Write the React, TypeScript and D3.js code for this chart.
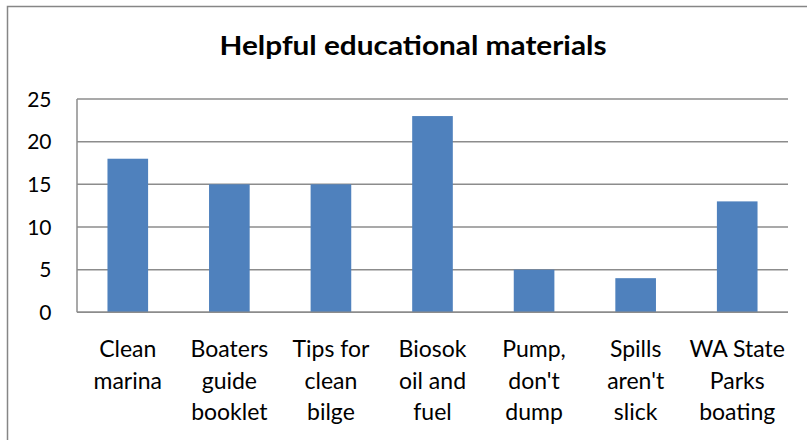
import React from "react";
import * as d3 from "d3";

const categories = [
  "Clean\nmarina",
  "Boaters\nguide\nbooklet",
  "Tips for\nclean\nbilge",
  "Biosok\noil and\nfuel",
  "Pump,\ndon't\ndump",
  "Spills\naren't\nslick",
  "WA State\nParks\nboating",
];
const values = [18, 15, 15, 23, 5, 4, 13];
const yTicks = [0, 5, 10, 15, 20, 25];
const title = "Helpful educational materials";

const W = 807;
const H = 440;
const plot = { left: 77, right: 788, top: 99, bottom: 312.3 };

export default function App() {
  const x = d3
    .scaleBand<string>()
    .domain(categories)
    .range([plot.left, plot.right])
    .paddingInner(0.6)
    .paddingOuter(0.3);
  const y = d3.scaleLinear().domain([0, 25]).range([plot.bottom, plot.top]);
  const font = "Lato, 'Open Sans', sans-serif";

  return (
    <svg
      width={W}
      height={H}
      style={{ position: "absolute", left: 0, top: 0, background: "#fff" }}
    >
      <rect x={0} y={0} width={W} height={H} fill="#fff" />
      <rect
        x={7.5}
        y={6.5}
        width={W + 20}
        height={H + 20}
        fill="none"
        stroke="#868686"
        strokeWidth={1.5}
      />
      <text
        x={413}
        y={55}
        textAnchor="middle"
        fontFamily={font}
        fontWeight={700}
        fontSize={27}
        textLength={387}
        lengthAdjust="spacingAndGlyphs"
        fill="#000"
      >
        {title}
      </text>
      {yTicks.map((t) => (
        <g key={t}>
          <line
            x1={plot.left}
            x2={plot.right}
            y1={y(t)}
            y2={y(t)}
            stroke="#8c8c8c"
            strokeWidth={1.5}
          />
          <text
            x={51.5}
            y={y(t)}
            dy="0.36em"
            textAnchor="end"
            fontFamily={font}
            fontSize={21}
            fill="#000"
          >
            {t}
          </text>
        </g>
      ))}
      <line
        x1={plot.left}
        x2={plot.left}
        y1={plot.top}
        y2={plot.bottom}
        stroke="#8c8c8c"
        strokeWidth={1.5}
      />
      {categories.map((c, i) => (
        <rect
          key={c}
          x={x(c)}
          y={y(values[i])}
          width={x.bandwidth()}
          height={y(0) - y(values[i])}
          fill="#4f81bd"
        />
      ))}
      <line
        x1={plot.left}
        x2={plot.right}
        y1={plot.bottom}
        y2={plot.bottom}
        stroke="#8c8c8c"
        strokeWidth={1.5}
      />
      {categories.map((c) => {
        const cx = (x(c) as number) + x.bandwidth() / 2;
        return (
          <text
            key={c}
            x={cx}
            textAnchor="middle"
            fontFamily={font}
            fontSize={23}
            fill="#000"
          >
            {c.split("\n").map((line, j) => (
              <tspan key={j} x={cx} y={357 + j * 31.5}>
                {line}
              </tspan>
            ))}
          </text>
        );
      })}
    </svg>
  );
}
